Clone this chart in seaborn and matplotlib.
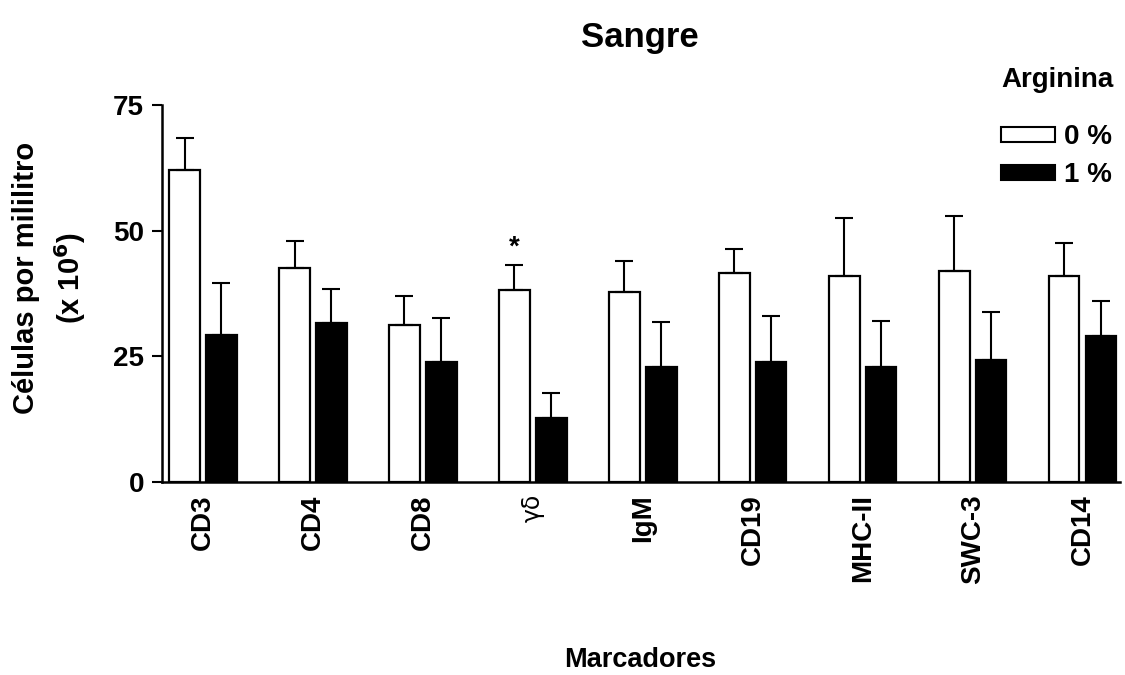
import numpy as np
import pandas as pd
import seaborn as sns
import matplotlib
matplotlib.use("Agg")
import matplotlib.pyplot as plt
from matplotlib.patches import Patch

# ---- data ----
markers = ["CD3", "CD4", "CD8", "γδ", "IgM", "CD19", "MHC-II", "SWC-3", "CD14"]
groups = ["0 %", "1 %"]
mean_0 = [62.1, 42.5, 31.2, 38.2, 37.8, 41.5, 41.0, 42.0, 41.0]
err_0 = [6.3, 5.4, 5.8, 4.9, 6.1, 4.8, 11.5, 10.9, 6.5]
mean_1 = [29.2, 31.5, 23.8, 12.6, 22.8, 23.8, 22.9, 24.3, 29.0]
err_1 = [10.3, 6.8, 8.7, 5.1, 9.0, 9.1, 9.0, 9.4, 6.9]
yticks = [0, 25, 50, 75]

df = pd.DataFrame({
    "Marcador": markers * 2,
    "Arginina": [groups[0]] * len(markers) + [groups[1]] * len(markers),
    "valor": mean_0 + mean_1,
})

sns.set_theme(style="ticks")
plt.rcParams["font.family"] = ["Liberation Sans", "DejaVu Sans"]
plt.rcParams["font.weight"] = "bold"
for k in ["text.color", "axes.labelcolor", "xtick.color", "ytick.color", "axes.edgecolor"]:
    plt.rcParams[k] = "black"

fig = plt.figure(figsize=(11.25, 6.75), dpi=100)
ax = fig.add_axes([162 / 1125, 1 - 481.7 / 675, (1120 - 162) / 1125, (481.7 - 105) / 675])

sns.barplot(data=df, x="Marcador", y="valor", hue="Arginina", order=markers,
            hue_order=groups, palette=["white", "black"], width=0.67, gap=0.17,
            edgecolor="black", linewidth=1.6, errorbar=None, legend=False,
            saturation=1, ax=ax)

for cont, errs in zip(ax.containers, [err_0, err_1]):
    xs = [p.get_x() + p.get_width() / 2 for p in cont.patches]
    hs = [p.get_height() for p in cont.patches]
    ax.errorbar(xs, hs, yerr=[np.zeros(len(errs)), errs], fmt="none",
                ecolor="black", elinewidth=1.5, capsize=6.8, capthick=1.5, zorder=1)

# asterisk over gamma-delta
gd = ax.containers[0].patches[markers.index("γδ")]
ax.text(gd.get_x() + gd.get_width() / 2, gd.get_height() + err_0[3] + 1.0, "*",
        ha="center", va="bottom", fontsize=20, fontweight="bold")

ax.set_ylim(0, 75)
ax.set_xlim(-0.373, 8.34)
ax.set_yticks(yticks)
ax.set_yticklabels([str(t) for t in yticks], fontsize=20, fontweight="bold")
ax.tick_params(axis="y", length=7, width=1.5, pad=6, colors="black")
ax.tick_params(axis="x", length=0, pad=9)
ax.set_xticks(range(len(markers)))
ax.set_xticklabels(markers, rotation=90, fontsize=20, fontweight="bold")
for lab in ax.get_xticklabels():
    if lab.get_text() == "γδ":
        lab.set_fontweight("normal")
        lab.set_fontfamily(["DejaVu Sans"])
        lab.set_fontsize(17)
sns.despine(ax=ax)
for s in ["left", "bottom"]:
    ax.spines[s].set_linewidth(1.8)
    ax.spines[s].set_color("black")

ax.set_xlabel("")
ax.set_ylabel("")
fig.text(640 / 1125, 1 - 38 / 675, "Sangre", ha="center", va="center",
         fontsize=25, fontweight="bold")
fig.text(640 / 1125, 1 - 660 / 675, "Marcadores", ha="center", va="center",
         fontsize=19.5, fontweight="bold")
fig.text(50 / 1125, 1 - 278 / 675, "Células por mililitro\n(x 10$^{\\mathbf{6}}$)",
         ha="center", va="center", rotation=90, fontsize=21, fontweight="bold",
         linespacing=1.4)

# legend
fig.text(1001 / 1125, 1 - 80 / 675, "Arginina", ha="left", va="center",
         fontsize=20, fontweight="bold")
handles = [Patch(facecolor="white", edgecolor="black", linewidth=1.5),
           Patch(facecolor="black", edgecolor="black", linewidth=1.5)]
fig.legend(handles, groups, loc="upper left", bbox_to_anchor=(1001 / 1125, 1 - 124 / 675),
           frameon=False, borderpad=0, borderaxespad=0, handlelength=1.95,
           handleheight=0.45, handletextpad=0.3, labelspacing=0.45,
           prop={"size": 20, "weight": "bold"})

fig.savefig("out.png", dpi=100)
